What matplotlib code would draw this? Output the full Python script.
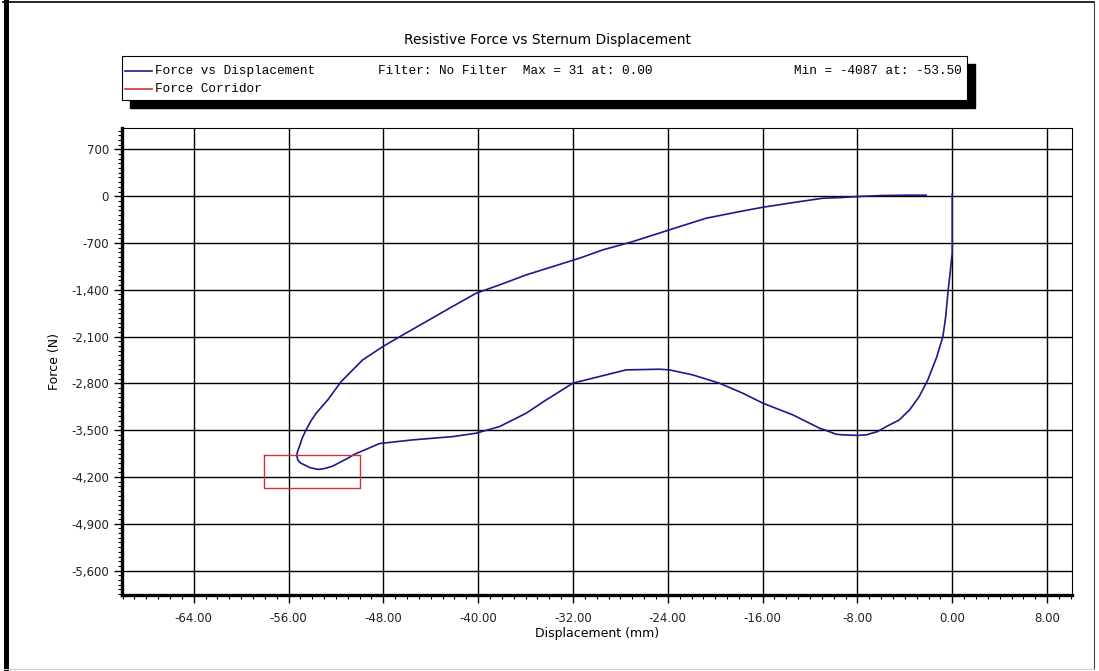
import matplotlib
matplotlib.use('Agg')
import matplotlib.pyplot as plt
from matplotlib.ticker import MultipleLocator, FuncFormatter
from matplotlib.patches import Rectangle
from matplotlib.lines import Line2D

# force vs displacement, loading path then unloading path
disp = [0.0, 0.0, -0.15, -0.37, -0.55, -0.79, -1.30, -2.06, -2.80, -3.60, -4.50,
        -5.57, -6.30, -7.26, -8.00, -9.23, -9.80, -10.70, -11.20,
        -13.45, -15.98, -17.67, -19.64, -21.89, -23.86, -24.70, -27.51, -30.33,
        -32.02, -33.14, -34.26, -35.95, -38.20, -40.17, -42.14, -45.52, -48.33,
        -49.50, -50.44, -51.00, -51.71, -52.30, -53.00, -53.50, -54.20, -54.66,
        -55.00, -55.22, -55.31,
        -55.20, -55.08, -54.85, -54.52, -54.10, -53.67, -52.69, -51.56, -49.74,
        -48.05, -46.36, -44.39,
        -42.42, -40.17, -38.20, -35.95, -33.71, -31.45, -29.49, -26.96, -23.86,
        -20.76, -17.95, -15.98, -13.45, -10.92, -9.51, -8.0, -6.0, -4.0, -2.2]
force = [31, -848, -1100, -1451, -1800, -2100, -2400, -2748, -3000, -3197, -3350,
         -3446, -3520, -3570, -3578, -3570, -3560, -3500, -3470,
         -3271, -3096, -2947, -2797, -2673, -2598, -2588, -2598, -2722,
         -2797, -2923, -3047, -3246, -3446, -3545, -3596, -3645, -3700,
         -3790, -3860, -3920, -3985, -4040, -4075, -4087, -4060, -4019,
         -3990, -3944, -3869,
         -3800, -3745, -3620, -3495, -3360, -3246, -3047, -2773, -2448,
         -2250, -2075, -1876,
         -1675, -1451, -1327, -1177, -1053, -927, -803, -679, -503,
         -329, -230, -165, -96, -30, -21, -5, 10, 15, 15]

# force corridor limits
corridor_x = [-58.1, -50.0]
corridor_y = [-3870, -4370]

x_ticks = [-64, -56, -48, -40, -32, -24, -16, -8, 0, 8]
y_ticks = [700, 0, -700, -1400, -2100, -2800, -3500, -4200, -4900, -5600]

blue = '#1a1a8a'
red = '#cc3333'

fig = plt.figure(figsize=(10.99, 6.71), dpi=100)
ax = fig.add_axes([0.111, 0.1133, 0.8644, 0.6959])

ax.plot(disp, force, color=blue, lw=1.2, zorder=3, solid_joinstyle='round')
cx = [corridor_x[0], corridor_x[1], corridor_x[1], corridor_x[0], corridor_x[0]]
cy = [corridor_y[0], corridor_y[0], corridor_y[1], corridor_y[1], corridor_y[0]]
ax.plot(cx, cy, color=red, lw=1.0, zorder=3)

ax.set_xlim(-70.05, 10.1)
ax.set_ylim(-5965, 1020)
ax.set_xticks(x_ticks)
ax.set_yticks(y_ticks)
ax.xaxis.set_minor_locator(MultipleLocator(1))
ax.yaxis.set_minor_locator(MultipleLocator(70))
ax.xaxis.set_major_formatter(FuncFormatter(lambda v, p: '%.2f' % v))
ax.yaxis.set_major_formatter(FuncFormatter(lambda v, p: '{:,.0f}'.format(v)))
ax.grid(True, which='major', color='black', lw=1.0)
ax.tick_params(which='major', direction='out', length=6, width=1.0, labelsize=8.5,
               colors='black', labelcolor='#222222')
ax.tick_params(which='minor', direction='out', length=3, width=0.8)
ax.tick_params(axis='x', pad=6)
for s in ['left', 'bottom']:
    ax.spines[s].set_linewidth(2.4)
for s in ['top', 'right']:
    ax.spines[s].set_linewidth(0.8)

ax.set_xlabel('Displacement (mm)', fontsize=9, labelpad=2)
ax.set_ylabel('Force (N)', fontsize=9, labelpad=7)

fig.text(0.4986, 0.94, 'Resistive Force vs Sternum Displacement', ha='center', va='center',
         fontsize=10)

# legend box with shadow
bx, by, bw, bh = 122 / 1099, 1 - 100 / 671, 845 / 1099, 44 / 671
fig.patches.append(Rectangle((bx + 8 / 1099, by - 8 / 671), bw, bh, transform=fig.transFigure,
                             facecolor='black', edgecolor='black', zorder=1))
fig.patches.append(Rectangle((bx, by), bw, bh, transform=fig.transFigure,
                             facecolor='white', edgecolor='black', lw=0.8, zorder=2))
mono = 'Liberation Mono'
fig.lines.append(Line2D([125 / 1099, 152 / 1099], [1 - 71 / 671, 1 - 71 / 671],
                        transform=fig.transFigure, color=blue, lw=1.2, zorder=3))
fig.lines.append(Line2D([125 / 1099, 152 / 1099], [1 - 89 / 671, 1 - 89 / 671],
                        transform=fig.transFigure, color=red, lw=1.2, zorder=3))
fig.text(155 / 1099, 1 - 71 / 671, 'Force vs Displacement', family=mono, fontsize=9.2,
         va='center', zorder=4)
fig.text(155 / 1099, 1 - 89 / 671, 'Force Corridor', family=mono, fontsize=9.2,
         va='center', zorder=4)
fig.text(378 / 1099, 1 - 71 / 671, 'Filter: No Filter  Max = 31 at: 0.00', family=mono,
         fontsize=9.2, va='center', zorder=4)
fig.text(794 / 1099, 1 - 71 / 671, 'Min = -4087 at: -53.50', family=mono, fontsize=9.2,
         va='center', zorder=4)

# outer frame
fig.lines.append(Line2D([5.5 / 1099, 5.5 / 1099], [2 / 671, 1 - 2 / 671],
                        transform=fig.transFigure, color='black', lw=3.6))
fig.lines.append(Line2D([3 / 1099, 1 - 5 / 1099], [1 - 2 / 671, 1 - 2 / 671],
                        transform=fig.transFigure, color='black', lw=1.2))
fig.lines.append(Line2D([1 - 5 / 1099, 1 - 5 / 1099], [2 / 671, 1 - 2 / 671],
                        transform=fig.transFigure, color='#444444', lw=0.8))
fig.lines.append(Line2D([3 / 1099, 1 - 5 / 1099], [2 / 671, 2 / 671],
                        transform=fig.transFigure, color='#cccccc', lw=0.8))

fig.savefig('out.png', dpi=100)
